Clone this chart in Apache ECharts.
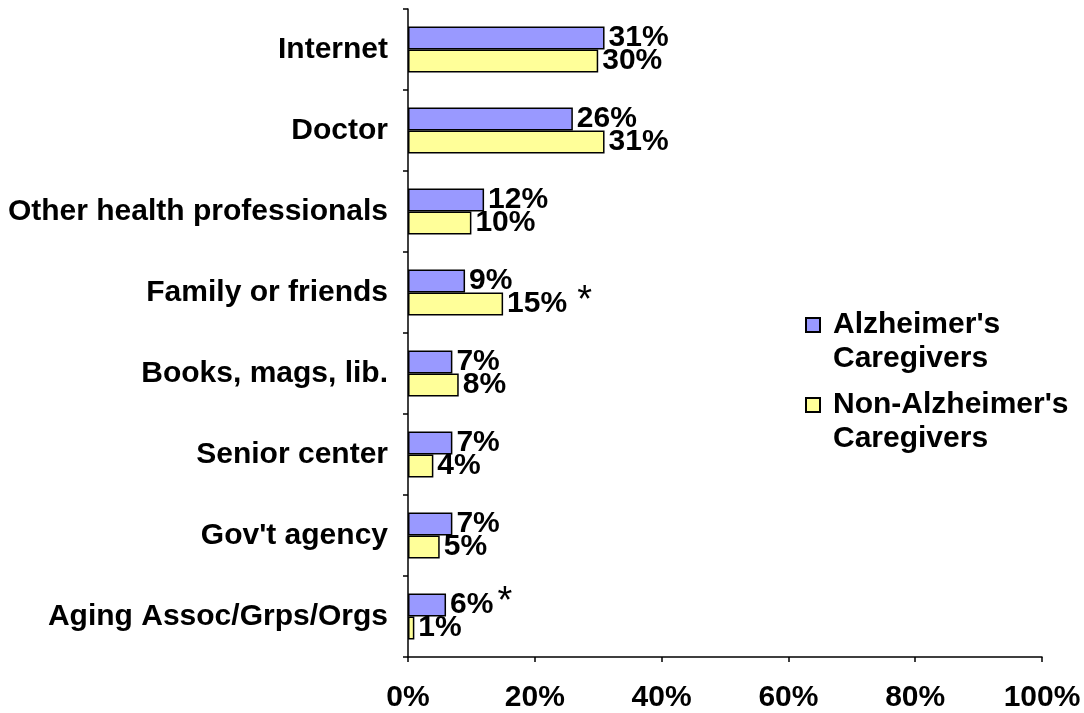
<!DOCTYPE html>
<html>
<head>
<meta charset="utf-8">
<script src="https://cdn.jsdelivr.net/npm/echarts@6/dist/echarts.min.js"></script>
<style>
  html, body { margin: 0; padding: 0; background: #fff; }
  #chart { width: 1084px; height: 713px; }
</style>
</head>
<body>
<div id="chart"></div>
<script>
// Sources of information, top to bottom
const categories = ['Internet', 'Doctor', 'Other health professionals', 'Family or friends',
  'Books, mags, lib.', 'Senior center', "Gov't agency", 'Aging Assoc/Grps/Orgs'];
const seriesNames = ["Alzheimer's Caregivers", "Non-Alzheimer's Caregivers"];
const legendLines = [["Alzheimer's", 'Caregivers'], ["Non-Alzheimer's", 'Caregivers']];
const alzValues = [31, 26, 12, 9, 7, 7, 7, 6];
const nonAlzValues = [30, 31, 10, 15, 8, 4, 5, 1];
// Significant differences are flagged with an asterisk
const alzFlags = [false, false, false, false, false, false, false, true];
const nonAlzFlags = [false, false, false, true, false, false, false, false];
const xTicks = [0, 20, 40, 60, 80, 100];

const FONT = '"Liberation Sans", Arial, sans-serif';
const FS = 30;

function labelFor(flags, starGap) {
  return {
    show: true,
    position: 'right',
    distance: 4,
    formatter: p => flags[p.dataIndex] ? '{v|' + p.value + '%}{a|*}' : '{v|' + p.value + '%}',
    rich: {
      v: { fontFamily: FONT, fontWeight: 'bold', fontSize: FS, color: '#000', lineHeight: 32 },
      a: { fontFamily: FONT, fontWeight: 'normal', fontSize: 38, color: '#000', lineHeight: 32, padding: [0, 0, 4, starGap] }
    }
  };
}

const chart = echarts.init(document.getElementById('chart'), null, { renderer: 'canvas' });
chart.setOption({
  animation: false,
  backgroundColor: '#fff',
  grid: { left: 408, right: 42, top: 9, bottom: 56, containLabel: false },
  legend: {
    orient: 'vertical',
    left: 805,
    top: 276,
    padding: 0,
    itemWidth: 14,
    itemHeight: 14,
    itemGap: -18,
    icon: 'rect',
    data: seriesNames,
    // a blank first line keeps the swatch level with the first text line
    formatter: name => {
      const lines = legendLines[seriesNames.indexOf(name)];
      return '{g| }\n{t|' + lines[0] + '}\n{t|' + lines[1] + '}';
    },
    textStyle: {
      rich: {
        g: { fontFamily: FONT, fontSize: FS, lineHeight: 34 },
        t: { fontFamily: FONT, fontWeight: 'bold', fontSize: FS, color: '#000', lineHeight: 34, padding: [0, 0, 0, 8] }
      }
    }
  },
  xAxis: {
    type: 'value',
    min: xTicks[0],
    max: xTicks[xTicks.length - 1],
    interval: 20,
    axisLine: { show: true, lineStyle: { color: '#000', width: 1.5 } },
    axisTick: { show: true, length: 5, lineStyle: { color: '#000', width: 1.5 } },
    splitLine: { show: false },
    axisLabel: {
      formatter: '{value}%',
      margin: 26,
      fontFamily: FONT, fontWeight: 'bold', fontSize: FS, color: '#000'
    }
  },
  yAxis: {
    type: 'category',
    inverse: true,
    data: categories,
    axisLine: { show: true, lineStyle: { color: '#000', width: 1.5 } },
    axisTick: { show: true, length: 5, lineStyle: { color: '#000', width: 1.5 } },
    axisLabel: {
      margin: 20,
      fontFamily: FONT, fontWeight: 'bold', fontSize: FS, color: '#000'
    }
  },
  series: [
    {
      name: seriesNames[0],
      type: 'bar',
      data: alzValues,
      barWidth: 23,
      barGap: '0%',
      itemStyle: { color: '#9999FF', borderColor: '#000', borderWidth: 1.5 },
      label: labelFor(alzFlags, 4)
    },
    {
      name: seriesNames[1],
      type: 'bar',
      data: nonAlzValues,
      barWidth: 23,
      barGap: '0%',
      itemStyle: { color: '#FFFF99', borderColor: '#000', borderWidth: 1.5 },
      label: labelFor(nonAlzFlags, 10)
    }
  ]
});
</script>
</body>
</html>
